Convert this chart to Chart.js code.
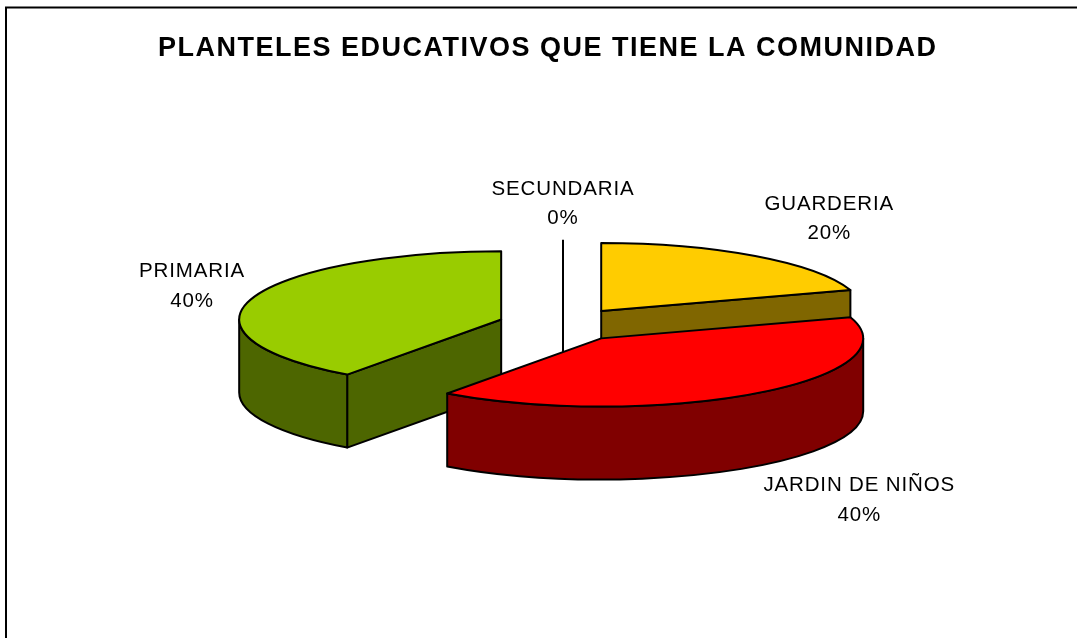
<!DOCTYPE html>
<html>
<head>
<meta charset="utf-8">
<style>html,body{margin:0;padding:0;background:#fff;overflow:hidden}canvas{display:block}</style>
<script src="https://cdn.jsdelivr.net/npm/chart.js@4"></script>
</head>
<body>
<canvas id="c" width="1077" height="638"></canvas>
<script>
const TITLE = 'PLANTELES EDUCATIVOS QUE TIENE LA COMUNIDAD';
const categories = ['GUARDERIA', 'JARDIN DE NIÑOS', 'PRIMARIA', 'SECUNDARIA'];
const values = [20, 40, 40, 0];
const topColors = ['#FFCC00', '#FF0000', '#99CC00', '#000000'];
const wallColors = ['#806600', '#800000', '#4D6600', '#000000'];
const labelShift = [[74, -37], [104, 107], [-60, -12], [0, -36]];

const SQUASH = 0.26, DEPTH = 73, EXPLODE = 65, LINE = 2, LINE_GAP = 29.5;
const FONT = 'Liberation Sans, Arial, sans-serif';

function geom(arc) {
  const mid = (arc.startAngle + arc.endAngle) / 2;
  const rx = arc.outerRadius;
  return {
    a0: arc.startAngle, a1: arc.endAngle, mid, rx, ry: rx * SQUASH,
    dx: Math.cos(mid) * EXPLODE,
    dy: Math.sin(mid) * EXPLODE * SQUASH,
    cx: arc.x + Math.cos(mid) * EXPLODE,
    cy: arc.y + Math.sin(mid) * EXPLODE * SQUASH
  };
}
function rim(g, a) { return [g.cx + Math.cos(a) * g.rx, g.cy + Math.sin(a) * g.ry]; }

function paint(ctx, fill) {
  ctx.fillStyle = fill; ctx.fill();
  ctx.strokeStyle = '#000'; ctx.lineWidth = LINE; ctx.lineJoin = 'round'; ctx.stroke();
}
function radialFace(ctx, g, a, fill) {
  const p = rim(g, a);
  ctx.beginPath();
  ctx.moveTo(g.cx, g.cy); ctx.lineTo(p[0], p[1]);
  ctx.lineTo(p[0], p[1] + DEPTH); ctx.lineTo(g.cx, g.cy + DEPTH);
  ctx.closePath();
  paint(ctx, fill);
}
function rimWall(ctx, g, fill) {
  const from = Math.max(g.a0, 0), to = Math.min(g.a1, Math.PI);
  if (to <= from) return;
  ctx.beginPath();
  ctx.ellipse(g.cx, g.cy, g.rx, g.ry, 0, from, to);
  ctx.ellipse(g.cx, g.cy + DEPTH, g.rx, g.ry, 0, to, from, true);
  ctx.closePath();
  paint(ctx, fill);
}

const pie3d = {
  id: 'pie3d',
  beforeDraw(chart) {
    const ctx = chart.ctx;
    ctx.save();
    ctx.fillStyle = '#fff'; ctx.fillRect(0, 0, chart.width, chart.height);
    ctx.strokeStyle = '#000'; ctx.lineWidth = 2;
    ctx.beginPath(); ctx.moveTo(6, chart.height); ctx.lineTo(6, 7.5); ctx.lineTo(chart.width, 7.5); ctx.stroke();
    ctx.restore();
    ctx.letterSpacing = '1.5px';
  },
  beforeDatasetsDraw(chart) {
    const ctx = chart.ctx;
    ctx.letterSpacing = '0px';
    const arcs = chart.getDatasetMeta(0).data;
    const order = arcs.map((a, i) => i).sort((p, q) => geom(arcs[p]).cy - geom(arcs[q]).cy);
    ctx.save();
    order.forEach(i => {
      const g = geom(arcs[i]);
      if (values[i] === 0) {
        ctx.strokeStyle = '#000'; ctx.lineWidth = LINE;
        ctx.beginPath();
        ctx.moveTo(g.cx, g.cy - g.ry); ctx.lineTo(g.cx, g.cy + DEPTH);
        ctx.stroke();
        return;
      }
      if (Math.cos(g.a1) > 1e-6) radialFace(ctx, g, g.a1, wallColors[i]);
      if (Math.cos(g.a0) < -1e-6) radialFace(ctx, g, g.a0, wallColors[i]);
      rimWall(ctx, g, wallColors[i]);
    });
    ctx.restore();
  },
  beforeDatasetDraw(chart) {
    const ctx = chart.ctx;
    chart.getDatasetMeta(0).data.forEach(arc => {
      const g = geom(arc);
      ctx.save();
      ctx.translate(g.dx, arc.y + g.dy);
      ctx.scale(1, SQUASH);
      ctx.translate(0, -arc.y);
      arc.draw(ctx);
      ctx.restore();
    });
    return false;
  },
  afterDatasetsDraw(chart) {
    const ctx = chart.ctx, arcs = chart.getDatasetMeta(0).data;
    const total = values.reduce((s, v) => s + v, 0);
    ctx.save();
    arcs.forEach((arc, i) => {
      const g = geom(arc);
      if (values[i] > 0) {
        ctx.beginPath();
        ctx.moveTo(g.cx, g.cy);
        ctx.ellipse(g.cx, g.cy, g.rx, g.ry, 0, g.a0, g.a1);
        ctx.closePath();
        ctx.strokeStyle = '#000'; ctx.lineWidth = LINE; ctx.lineJoin = 'round'; ctx.stroke();
      }
    });
    ctx.fillStyle = '#000';
    ctx.font = '20.5px ' + FONT;
    ctx.letterSpacing = '0.85px';
    ctx.textAlign = 'center'; ctx.textBaseline = 'middle';
    arcs.forEach((arc, i) => {
      const g = geom(arc), p = rim(g, g.mid);
      const x = p[0] + labelShift[i][0], y = p[1] + labelShift[i][1];
      ctx.fillText(categories[i], x, y - LINE_GAP / 2);
      ctx.fillText(Math.round(values[i] / total * 100) + '%', x, y + LINE_GAP / 2);
    });
    ctx.restore();
  }
};

new Chart(document.getElementById('c'), {
  type: 'pie',
  data: {
    labels: categories,
    datasets: [{
      data: values,
      backgroundColor: topColors,
      borderWidth: 0,
      radius: 262,
      clip: false
    }]
  },
  plugins: [pie3d],
  options: {
    responsive: false,
    animation: false,
    layout: { padding: { left: 158, right: 109, top: 0, bottom: 61 } },
    plugins: {
      legend: { display: false },
      tooltip: { enabled: false },
      title: {
        display: true,
        text: TITLE,
        align: 'start',
        color: '#000',
        font: { family: FONT, size: 27, weight: 'bold', lineHeight: 1.2 },
        padding: { top: 32, bottom: 8 }
      }
    }
  }
});
</script>
</body>
</html>
